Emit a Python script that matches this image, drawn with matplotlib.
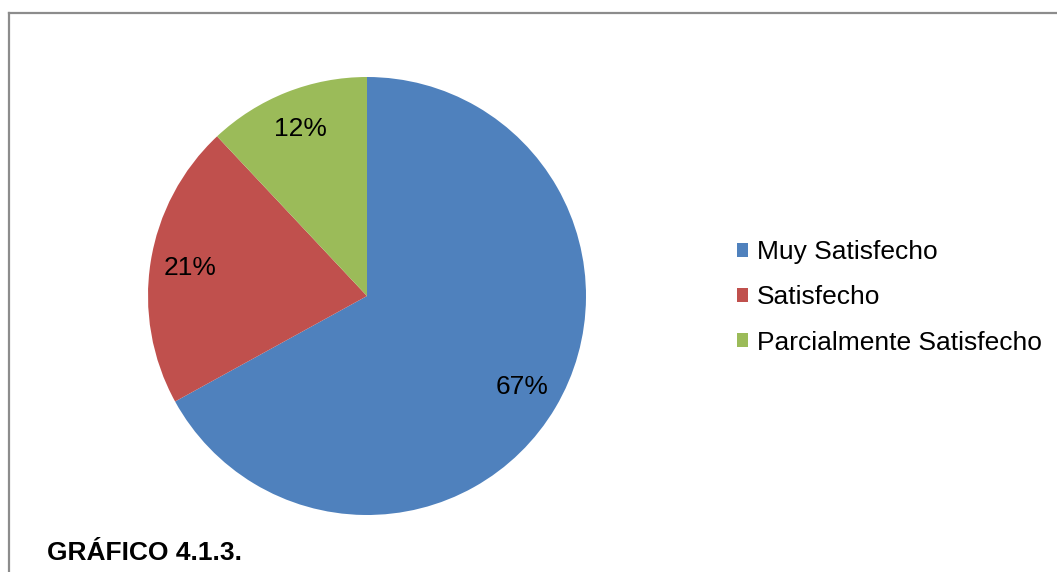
import matplotlib.pyplot as plt
from matplotlib.lines import Line2D

# Survey results: satisfaction levels (percent)
categories = ['Muy Satisfecho', 'Satisfecho', 'Parcialmente Satisfecho']
shares = [67, 21, 12]
colors = ['#4F81BD', '#C0504D', '#9BBB59']
caption = 'GRÁFICO 4.1.3.'

plt.rcParams['font.family'] = ['Liberation Sans', 'DejaVu Sans']

W, H = 1057, 572
fig = plt.figure(figsize=(W / 100, H / 100), dpi=100)

# pie area in pixel coordinates (left, top, size)
px_left, px_top, px_size = 148, 77, 438
ax = fig.add_axes([px_left / W, 1 - (px_top + px_size) / H, px_size / W, px_size / H])

wedges, texts, autotexts = ax.pie(
    shares, colors=colors, startangle=90, counterclock=False,
    autopct='%d%%', pctdistance=0.82,
    textprops={'fontsize': 19, 'color': 'black'},
)
ax.set_xlim(-1, 1)
ax.set_ylim(-1, 1)
ax.set_aspect('equal')

fig.legend(wedges, categories, loc='center left',
           bbox_to_anchor=(724 / W, 1 - 297.5 / H),
           frameon=False, fontsize=19, handlelength=0.42, handleheight=0.42,
           handletextpad=0.34, labelspacing=0.8, borderpad=0)

fig.text(47 / W, 1 - 553 / H, caption, fontsize=19, fontweight='bold',
         va='center', ha='left')

# chart frame (only top and left edges fall inside the image)
fig.add_artist(Line2D([9 / W, 9 / W], [0, 1 - 13 / H], color='#8C8C8C', lw=1.6))
fig.add_artist(Line2D([9 / W, 1], [1 - 13 / H, 1 - 13 / H], color='#8C8C8C', lw=1.6))

fig.savefig('out.png', dpi=100)
